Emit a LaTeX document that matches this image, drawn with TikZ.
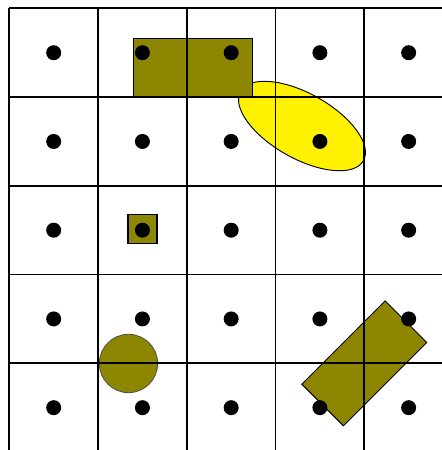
\documentclass[tikz,border=0pt]{standalone}
\begin{document}
\begin{tikzpicture}[x=2cm,y=-2cm]
			\useasboundingbox (-0.105,-0.094) rectangle (4.875,4.977);
			\clip (-0.105,-0.094) rectangle (4.875,4.977);
			% Shapes
			\filldraw[fill=yellow, draw=black, line width=0.6pt, shift={(3.298,1.326)}, rotate=-29.4]
			(0,0) ellipse (0.795 and 0.366);
			\filldraw[fill=olive, draw=black, line width=0.7pt] (1.402,0.343) rectangle (2.738,1.0);
			\filldraw[fill=olive, draw=black, line width=0.7pt] (1.337,2.323) rectangle (1.664,2.645);
			\filldraw[fill=olive, draw=black!70, line width=0.5pt] (1.343,4.002) circle (0.329);
			\filldraw[fill=olive, draw=black, line width=0.6pt, shift={(4,4)}, rotate=45]
			(-0.664,-0.332) rectangle (0.664,0.332);
			% Grid
			\foreach \k in {0,...,4} {
					\draw[line width=1.2pt] (\k,0) -- (\k,5);
					\draw[line width=1.2pt] (0,\k) -- (5,\k);
				}
			% Dots
			\foreach \x in {0,...,4} {
					\foreach \y in {0,...,4} {
							\fill (\x+0.5,\y+0.5) circle (0.0845);
						}
				}
		\end{tikzpicture}
\end{document}
